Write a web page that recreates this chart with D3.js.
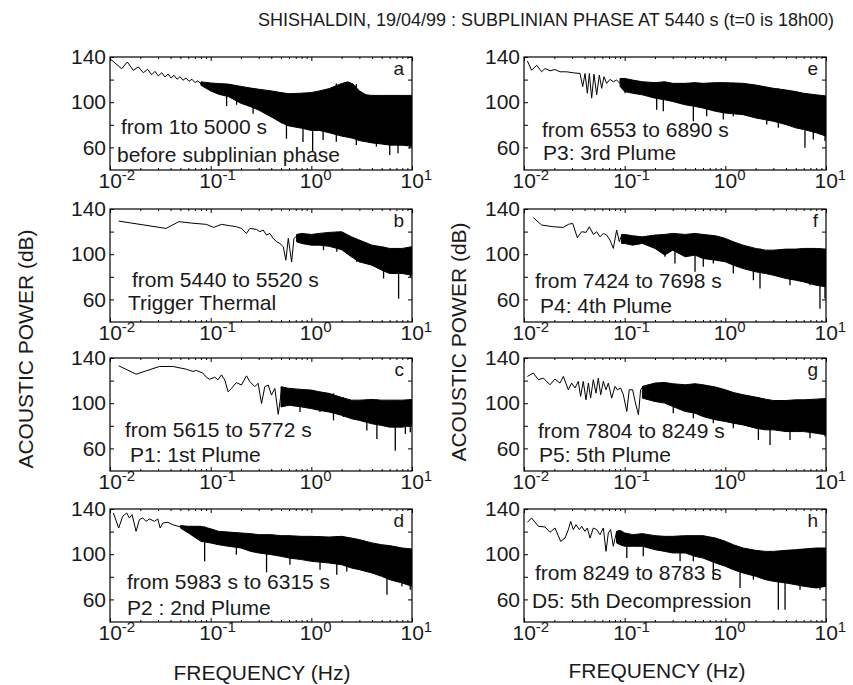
<!DOCTYPE html>
<html>
<head>
  <meta charset="utf-8">
  <title>Shishaldin acoustic spectra</title>
  <script src="https://d3js.org/d3.v7.min.js"></script>
  <style>
    body {
      margin: 0;
      background: #fff;
    }

    text {
      fill: #1a1a1a;
      font-family: "Liberation Sans", Arial, Helvetica, sans-serif;
    }

    .axis path {
      display: none;
    }

    .axis line {
      stroke: #000;
    }
  </style>
</head>

<body>
  <svg id="chart" width="853" height="685"></svg>

  <script>
    // ---- data: [frequency Hz, dB] ----
    var letters = ["a", "b", "c", "d", "e", "f", "g", "h"];
    var rangeLabels = ["from 1to 5000 s", "from 5440 to 5520 s", "from 5615 to 5772 s", "from 5983 s to 6315 s",
      "from 6553 to 6890 s", "from 7424 to 7698 s", "from 7804 to 8249 s", "from 8249 to 8783 s"];
    var phaseLabels = ["before subplinian phase", "Trigger Thermal", "P1: 1st Plume", "P2 : 2nd Plume",
      "P3: 3rd Plume", "P4: 4th Plume", "P5: 5th Plume", "D5: 5th Decompression"];
    var majorFreq = [0.01, 0.1, 1, 10];
    var powerTicks = [60, 80, 100, 120, 140];
    var powerLabels = [60, 100, 140];

    // low frequency part, drawn as a thin line
    var traceA = [[0.0100, 138.5], [0.01307, 129.6], [0.01485, 135.6], [0.01704, 128.2], [0.0191, 131.2], [0.02142, 126.1],
      [0.02367, 129.1], [0.02593, 124.3], [0.02797, 127.3], [0.03018, 123.2], [0.03261, 126.1], [0.03516, 122.3],
      [0.0377, 125.0], [0.04039, 121.4], [0.04323, 123.8], [0.0463, 120.3], [0.04959, 122.6], [0.05311, 119.4],
      [0.05688, 121.4], [0.06091, 118.5], [0.06524, 120.3], [0.06987, 117.3], [0.07482, 119.0], [0.08014, 116.1]];
    var traceB = [[0.0122, 129.3], [0.0361, 122.8], [0.0483, 128.8], [0.065, 127.5], [0.0905, 126.4], [0.107, 123.7],
      [0.128, 126.4], [0.155, 125.2], [0.180, 124.3], [0.202, 122.8], [0.227, 118.4], [0.245, 122.8], [0.285, 122.0],
      [0.308, 119.9], [0.332, 121.4], [0.359, 116.9], [0.387, 118.4], [0.418, 114.0], [0.451, 111.0], [0.487, 109.5],
      [0.526, 106.6], [0.559, 94.7], [0.590, 114.0], [0.637, 93.2], [0.672, 114.0], [0.714, 116.0]];
    var traceC = [[0.0122, 133.1], [0.01816, 125.7], [0.031, 132.5], [0.0421, 132.5], [0.0572, 130.1], [0.0667, 128.1],
      [0.072, 129.0], [0.0839, 126.6], [0.0905, 123.0], [0.0977, 121.2], [0.110, 123.0], [0.118, 120.6], [0.128, 125.1],
      [0.138, 120.6], [0.149, 110.1], [0.161, 113.1], [0.180, 118.2], [0.202, 116.1], [0.227, 124.2], [0.245, 119.1],
      [0.275, 114.6], [0.296, 117.6], [0.320, 99.7], [0.345, 114.6], [0.373, 116.1], [0.402, 107.2], [0.434, 113.1],
      [0.469, 90.1], [0.506, 111.6], [0.568, 113.1]];
    var traceD = [[0.0108, 136.5], [0.0122, 123.2], [0.01337, 133.5], [0.01466, 136.5], [0.01559, 132.0], [0.01656, 135.0],
      [0.01816, 120.2], [0.0196, 130.6], [0.02116, 132.0], [0.02284, 129.1], [0.02466, 131.2], [0.02766, 129.1],
      [0.02985, 131.2], [0.03149, 123.2], [0.03349, 127.6], [0.03757, 128.2], [0.04214, 126.1], [0.04726, 124.7],
      [0.05301, 124.1], [0.05946, 121.7]];
    var traceE = [[0.0108, 136.5], [0.0119, 128.3], [0.01337, 132.7], [0.01497, 126.9], [0.01617, 129.8], [0.01812, 127.8],
      [0.02031, 128.9], [0.02278, 126.9], [0.02654, 126.9], [0.0309, 126.0], [0.036, 125.4], [0.0383, 113.8],
      [0.0404, 125.4], [0.0426, 107.9], [0.0446, 125.4], [0.047, 103.6], [0.0496, 124.8], [0.0527, 106.5], [0.056, 124.0],
      [0.0591, 112.3], [0.0623, 122.5], [0.0662, 116.7], [0.0715, 120.2], [0.0771, 118.1], [0.0833, 119.6],
      [0.0899, 116.7], [0.0933, 121.0]];
    var traceF = [[0.01238, 132.3], [0.01498, 125.8], [0.01955, 124.3], [0.02459, 123.7], [0.02757, 126.4], [0.03044, 127.3],
      [0.03388, 114.6], [0.03741, 119.9], [0.0413, 119.3], [0.04457, 124.3], [0.04885, 117.5], [0.05272, 119.9],
      [0.05689, 115.4], [0.06139, 118.4], [0.06625, 116.9], [0.07149, 112.5], [0.07714, 105.1], [0.08323, 121.4],
      [0.0885, 111.0], [0.09333, 116.9]];
    var traceG = [[0.0108, 123.7], [0.01238, 126.7], [0.01388, 120.8], [0.01556, 122.2], [0.01812, 116.3], [0.02031, 121.4],
      [0.02278, 117.8], [0.02459, 123.7], [0.02757, 111.9], [0.02975, 117.8], [0.0321, 113.4], [0.0346, 119.3],
      [0.0365, 106.0], [0.0388, 119.3], [0.0413, 103.0], [0.0436, 117.8], [0.0459, 104.5], [0.0488, 120.8],
      [0.0519, 108.9], [0.0547, 122.2], [0.0578, 107.5], [0.0614, 119.3], [0.0653, 111.9], [0.0688, 117.8],
      [0.0743, 104.5], [0.0802, 114.9], [0.0845, 111.9], [0.0912, 113.4], [0.097, 107.5], [0.105, 92.7], [0.111, 111.9],
      [0.12, 111.9], [0.127, 101.5], [0.137, 89.7], [0.144, 111.9], [0.153, 114.9]];
    var traceH = [[0.0108, 128.2], [0.0119, 132.0], [0.01388, 124.7], [0.01617, 124.1], [0.01812, 119.4], [0.02031, 123.2],
      [0.02313, 111.4], [0.02555, 114.3], [0.02757, 121.7], [0.02908, 129.1], [0.0309, 121.7], [0.03286, 126.1],
      [0.03548, 121.7], [0.03741, 124.7], [0.04036, 120.2], [0.04256, 123.2], [0.04529, 114.3], [0.04885, 123.2],
      [0.05272, 121.7], [0.05689, 117.3], [0.06139, 123.2], [0.06526, 102.5], [0.0688, 118.8], [0.07254, 121.7],
      [0.07714, 107.0], [0.08323, 120.2]];

    // dense part: [frequency, upper edge dB, lower edge dB]
    var bandA = [[0.08, 118, 115], [0.1, 117, 110], [0.12, 116.5, 107], [0.15, 116, 105], [0.2, 114, 99], [0.25, 112.5, 96],
      [0.3, 111.5, 93], [0.4, 110, 87], [0.5, 108.5, 82], [0.6, 107.5, 79], [0.8, 108, 77], [1, 108.5, 75], [1.2, 110, 75],
      [1.5, 112, 73], [2, 116.5, 70], [2.3, 118, 69], [2.6, 116, 68], [3, 110, 66], [3.5, 106.5, 65], [4, 106, 64],
      [5, 106, 63], [6, 106, 62], [8, 106, 62], [10, 106, 61]];
    var bandB = [[0.714, 117.5, 111], [0.8, 118.4, 109.5], [1.0, 117.5, 108], [1.2, 118.4, 108], [1.5, 119.3, 107],
      [2.0, 119.9, 104], [2.5, 115.4, 97.7], [3.0, 112.5, 93.2], [4.0, 108, 90.3], [5.0, 106.6, 85.9], [6.0, 105.1, 82.9],
      [8.0, 105.1, 82.9], [10, 106.6, 81.4]];
    var bandC = [[0.5, 114.6, 96.7], [0.6, 113.1, 98.2], [0.8, 112.2, 96.7], [1.0, 111.6, 95.2], [1.2, 110.1, 93.7],
      [1.5, 108.7, 92.2], [2.0, 105.1, 89.3], [2.5, 102.7, 86.3], [3.0, 102.7, 84.8], [4.0, 103.3, 81.8], [5.0, 102.7, 80.3],
      [6.0, 102.7, 78.8], [8.0, 102.7, 78.8], [10, 103.3, 80.3]];
    var bandD = [[0.05, 125.3, 123.2], [0.06, 124.7, 118.8], [0.08, 124.7, 111.4], [0.1, 122.5, 109.9], [0.12, 120.2, 108.4],
      [0.15, 119.6, 107.0], [0.2, 118.8, 105.5], [0.25, 118.2, 102.5], [0.3, 117.3, 101.1], [0.4, 117.3, 99.6],
      [0.5, 116.4, 98.1], [0.6, 116.4, 96.6], [0.8, 115.8, 95.2], [1.0, 115.8, 93.7], [1.5, 115.2, 92.2], [2.0, 115.8, 90.7],
      [2.5, 114.3, 87.8], [3.0, 112.9, 86.3], [4.0, 110, 83.4], [5.0, 108.4, 80.4], [6.0, 107.6, 77.5], [8.0, 105.5, 74.5],
      [10, 104.6, 71.6]];
    var bandE = [[0.09, 121.0, 114.0], [0.1, 121.0, 109.4], [0.12, 119.6, 107.9], [0.15, 118.1, 106.5], [0.2, 117.3, 103.6],
      [0.25, 118.1, 102.1], [0.3, 116.7, 100.6], [0.4, 116.7, 97.7], [0.5, 117.3, 96.3], [0.6, 116.7, 94.8],
      [0.8, 117.3, 91.9], [1.0, 117.3, 90.4], [1.5, 116.7, 89.0], [2.0, 115.2, 86.1], [3.0, 112.3, 83.1], [4.0, 110.8, 80.2],
      [5.0, 109.4, 77.3], [6.0, 107.9, 75.9], [8.0, 106.5, 72.9], [10, 105.5, 70.0]];
    var bandF = [[0.093, 117.5, 109.5], [0.1, 117.5, 109.5], [0.12, 116.3, 108.0], [0.15, 115.4, 109.5], [0.2, 116.9, 105.1],
      [0.25, 117.5, 99.2], [0.3, 118.4, 103.6], [0.4, 117.5, 97.7], [0.5, 118.4, 99.2], [0.6, 117.5, 96.2],
      [0.8, 116.3, 94.7], [1.0, 114.0, 93.3], [1.2, 111.0, 90.3], [1.5, 108.0, 87.3], [2.0, 105.1, 84.4], [2.5, 103.6, 82.9],
      [3.0, 103.6, 81.4], [4.0, 104.5, 78.5], [5.0, 104.5, 77.0], [6.0, 105.1, 75.5], [8.0, 105.1, 72.5], [10, 104.5, 71.1]];
    var bandG = [[0.15, 114.9, 104.5], [0.2, 117.8, 101.5], [0.25, 118.4, 100.1], [0.3, 117.2, 97.1], [0.4, 116.3, 92.7],
      [0.5, 117.2, 91.2], [0.6, 116.3, 88.2], [0.8, 114.3, 85.3], [1.0, 111.9, 83.8], [1.2, 109.5, 82.3], [1.5, 107.5, 80.8],
      [2.0, 105.4, 77.9], [2.5, 103.6, 76.4], [3.0, 102.4, 76.4], [4.0, 102.4, 74.9], [5.0, 103.0, 74.9], [6.0, 103.0, 74.9],
      [8.0, 103.6, 73.4], [10, 104.2, 72.0]];
    var bandH = [[0.083, 120.2, 110], [0.09, 121.1, 108.4], [0.1, 118.8, 107.0], [0.12, 117.3, 107.0], [0.15, 118.2, 107.0],
      [0.2, 116.4, 104.0], [0.25, 115.8, 102.5], [0.3, 115.8, 101.1], [0.4, 116.4, 101.1], [0.5, 116.4, 98.1],
      [0.6, 116.4, 96.6], [0.8, 114.3, 92.2], [1.0, 111.4, 89.3], [1.2, 108.4, 86.3], [1.5, 105.5, 83.4], [2.0, 103.4, 80.4],
      [2.5, 102.5, 77.5], [3.0, 102.5, 76.0], [4.0, 103.4, 74.5], [5.0, 104.0, 73.0], [6.0, 104.6, 71.6], [8.0, 105.5, 70.1],
      [10, 105.5, 71.6]];

    // deepest downward spikes: [frequency, dB]
    var dipsA = [[0.144, 96.6], [0.181, 97.7], [0.264, 89.8], [0.402, 87.3], [0.505, 81.4], [0.566, 67.7], [0.826, 64.8],
      [1.03, 56], [1.31, 66.6], [1.77, 65.1], [2.8, 62.2], [4.43, 60.7], [6.01, 53.3], [7.26, 54.8], [9.49, 59.2]];
    var dipsB = [[1.32, 103.6], [1.79, 102.1], [2.83, 93.2], [5.22, 78.5], [7.36, 60.7], [9.62, 79.9]];
    var dipsC = [[0.771, 92.2], [1.22, 92.2], [1.66, 84.8], [2.08, 87.8], [3.56, 75.8], [4.48, 68.4], [6.82, 57.9],
      [8.59, 72.8], [9.62, 74.3]];
    var dipsD = [[0.0871, 93.7], [0.18, 99.6], [0.359, 84.0], [0.613, 90.7], [1.22, 86.3], [1.79, 81.9], [2.25, 84.8],
      [5.64, 64.2], [7.94, 71.6], [9.62, 68.6]];
    var dipsE = [[0.101, 107.9], [0.208, 93.4], [0.242, 91.9], [0.481, 83.1], [0.653, 87.5], [0.955, 84.6], [1.2, 87.5],
      [2.58, 80.2], [3.36, 77.3], [5.73, 75.9], [6.18, 59.8], [7.48, 67.1], [9.77, 65.7]];
    var dipsF = [[0.252, 97.7], [0.316, 91.8], [0.5, 84.4], [0.604, 88.8], [0.76, 91.8], [1.2, 82.9], [1.9, 77.0],
      [2.21, 69.6], [4.39, 72.5], [6.93, 72.5], [8.71, 51.8], [9.77, 60.7]];
    var dipsG = [[0.304, 91.2], [0.481, 86.7], [0.56, 92.7], [0.76, 82.3], [1.2, 77.9], [2.13, 67.5], [2.78, 63.1],
      [4.39, 67.5], [6.93, 69.0], [9.77, 70.5]];
    var dipsH = [[0.105, 96.6], [0.153, 98.1], [0.355, 93.7], [0.481, 93.7], [0.76, 77.5], [1.4, 70.1], [1.9, 77.5],
      [3.36, 50.9], [3.92, 50.9], [5.52, 68.6], [8.71, 68.6], [9.77, 71.6]];

    var traces = [traceA, traceB, traceC, traceD, traceE, traceF, traceG, traceH];
    var bands = [bandA, bandB, bandC, bandD, bandE, bandF, bandG, bandH];
    var dips = [dipsA, dipsB, dipsC, dipsD, dipsE, dipsF, dipsG, dipsH];

    // ---- layout ----
    var colX = [110, 524], rowY = [57, 209, 358, 509];
    var pw = 302, ph = 113;
    // [x offset, baseline] of the two annotation lines, per panel
    var notePos = [[11, 77, 7, 105], [22, 78, 18, 101], [15, 79, 20, 104], [17, 80, 17, 106],
      [18, 80, 19, 103], [11, 79, 16, 104], [14, 80, 15, 104], [11, 71, 8, 99]];
    var font = '"Liberation Sans", Arial, Helvetica, sans-serif';

    var svg = d3.select("#chart");

    svg.append("text")
      .attr("x", 546).attr("y", 26)
      .attr("text-anchor", "middle")
      .style("font-size", "18px")
      .text("SHISHALDIN, 19/04/99 : SUBPLINIAN PHASE AT 5440 s (t=0 is 18h00)");

    letters.forEach(function (letter, i) {
      var x0 = colX[i < 4 ? 0 : 1], y0 = rowY[i % 4];
      var x = d3.scaleLog().domain([0.01, 10]).range([x0, x0 + pw]);
      var y = d3.scaleLinear().domain([40, 140]).range([y0 + ph, y0]);
      var minorFreq = x.ticks().filter(function (d) { return majorFreq.indexOf(d) < 0; });

      svg.append("clipPath").attr("id", "clip" + i)
        .append("rect").attr("x", x0).attr("y", y0).attr("width", pw).attr("height", ph);
      var g = svg.append("g").attr("clip-path", "url(#clip" + i + ")");

      // dense band
      g.append("path").datum(bands[i])
        .attr("d", d3.area()
          .x(function (d) { return x(d[0]); })
          .y0(function (d) { return y(d[2]); })
          .y1(function (d) { return y(d[1]); }))
        .attr("fill", "#000").attr("stroke", "#000").attr("stroke-width", 1);

      // deep spikes hanging from the band
      var nearest = d3.bisector(function (d) { return d[0]; }).center;
      g.selectAll(null).data(dips[i]).join("line")
        .attr("x1", function (d) { return x(d[0]); })
        .attr("x2", function (d) { return x(d[0]); })
        .attr("y1", function (d) { return y(bands[i][nearest(bands[i], d[0])][1]); })
        .attr("y2", function (d) { return y(d[1]); })
        .attr("stroke", "#000").attr("stroke-width", 1.3);

      // low frequency line
      g.append("path").datum(traces[i])
        .attr("d", d3.line()
          .x(function (d) { return x(d[0]); })
          .y(function (d) { return y(d[1]); }))
        .attr("fill", "none").attr("stroke", "#000").attr("stroke-width", 1);

      // axes, ticks pointing inward
      var bottom = svg.append("g").attr("class", "axis")
        .attr("transform", "translate(0," + (y0 + ph) + ")")
        .call(d3.axisBottom(x).tickValues(majorFreq).tickSize(-4).tickPadding(3).tickFormat(function () { return "10"; }))
        .attr("font-size", 21).attr("font-family", font);
      bottom.selectAll(".tick text")
        .attr("text-anchor", "start").attr("x", -12)
        .append("tspan")
        .attr("dy", -8)
        .style("font-size", "15px")
        .text(function (d) { return String(Math.round(Math.log10(d))); });
      svg.append("g").attr("class", "axis")
        .attr("transform", "translate(0," + (y0 + ph) + ")")
        .call(d3.axisBottom(x).tickValues(minorFreq).tickSize(-2).tickFormat(""));
      svg.append("g").attr("class", "axis")
        .attr("transform", "translate(0," + y0 + ")")
        .call(d3.axisTop(x).tickValues(majorFreq).tickSize(-4).tickFormat(""));
      svg.append("g").attr("class", "axis")
        .attr("transform", "translate(0," + y0 + ")")
        .call(d3.axisTop(x).tickValues(minorFreq).tickSize(-2).tickFormat(""));
      svg.append("g").attr("class", "axis")
        .attr("transform", "translate(" + x0 + ",0)")
        .call(d3.axisLeft(y).tickValues(powerTicks).tickSize(-4).tickPadding(4)
          .tickFormat(function (d) { return powerLabels.indexOf(d) >= 0 ? d : ""; }))
        .attr("font-size", 21).attr("font-family", font);
      svg.append("g").attr("class", "axis")
        .attr("transform", "translate(" + (x0 + pw) + ",0)")
        .call(d3.axisRight(y).tickValues(powerTicks).tickSize(-4).tickFormat(""));

      svg.append("rect")
        .attr("x", x0).attr("y", y0).attr("width", pw).attr("height", ph)
        .attr("fill", "none").attr("stroke", "#000").attr("stroke-width", 1.2);

      // panel letter and annotations
      svg.append("text")
        .attr("x", x0 + pw - 8).attr("y", y0 + 18)
        .attr("text-anchor", "end")
        .style("font-size", "19px")
        .text(letter);
      var np = notePos[i];
      svg.append("text")
        .attr("x", x0 + np[0]).attr("y", y0 + np[1])
        .style("font-size", "21px")
        .text(rangeLabels[i]);
      svg.append("text")
        .attr("x", x0 + np[2]).attr("y", y0 + np[3])
        .style("font-size", "21px")
        .text(phaseLabels[i]);
    });

    // axis titles
    [[33, 349], [466, 342]].forEach(function (p) {
      svg.append("text")
        .attr("transform", "translate(" + p[0] + "," + p[1] + ") rotate(-90)")
        .attr("text-anchor", "middle")
        .style("font-size", "21px")
        .text("ACOUSTIC POWER (dB)");
    });
    [[262, 680], [657, 678]].forEach(function (p) {
      svg.append("text")
        .attr("x", p[0]).attr("y", p[1])
        .attr("text-anchor", "middle")
        .style("font-size", "21px")
        .text("FREQUENCY (Hz)");
    });
  </script>
</body>
</html>
